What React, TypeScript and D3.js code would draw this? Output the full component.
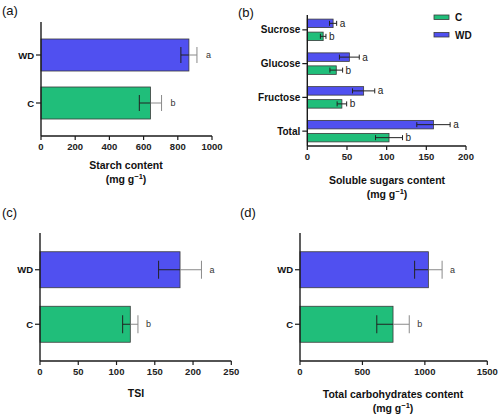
import React from "react";
import * as d3 from "d3";

const groups = ["C", "WD"];
const starchMean = [640, 865];
const starchErr = [65, 47];
const starchLetters = ["b", "a"];
const starchTicks = [0, 200, 400, 600, 800, 1000];

const sugarCats = ["Sucrose", "Glucose", "Fructose", "Total"];
const sugarC = [20, 36.5, 43.6, 103];
const sugarCErr = [3.5, 8, 6, 17];
const sugarWD = [32.5, 53, 71, 159];
const sugarWDErr = [4.5, 12.5, 14, 21];
const sugarLettersC = ["b", "b", "b", "b"];
const sugarLettersWD = ["a", "a", "a", "a"];
const sugarTicks = [0, 50, 100, 150, 200];

const tsiMean = [118, 183];
const tsiErr = [10, 28];
const tsiLetters = ["b", "a"];
const tsiTicks = [0, 50, 100, 150, 200, 250];

const carbMean = [745, 1028];
const carbErr = [130, 110];
const carbLetters = ["b", "a"];
const carbTicks = [0, 500, 1000, 1500];

const BLUE = "#5050F0";
const GREEN = "#20BE7A";
const AX = "#1a1a1a";
const FONT = "'Liberation Sans', Arial, sans-serif";

function colorOf(g: string) {
  return g === "WD" ? BLUE : GREEN;
}

function XAxis({ x, y, ticks }: { x: d3.ScaleLinear<number, number>; y: number; ticks: number[] }) {
  return (
    <g>
      <line x1={x.range()[0]} x2={x.range()[1]} y1={y} y2={y} stroke={AX} strokeWidth={1.4} />
      {ticks.map((t) => (
        <g key={t}>
          <line x1={x(t)} x2={x(t)} y1={y} y2={y + 4} stroke={AX} strokeWidth={1.2} />
          <text x={x(t)} y={y + 14} textAnchor="middle" fontSize={9.5} fontWeight="bold" fill="#222" fontFamily={FONT}>
            {t}
          </text>
        </g>
      ))}
    </g>
  );
}

function Title({ x, y, lines }: { x: number; y: number; lines: string[] }) {
  return (
    <g fontFamily={FONT} fontWeight="bold" fontSize={10.5} fill="#111">
      <text x={x} y={y} textAnchor="middle">{lines[0]}</text>
      {lines.length > 1 && (
        <text x={x} y={y + 14} textAnchor="middle">
          (mg g<tspan dy={-4} fontSize={7.5}>−1</tspan><tspan dy={4}>)</tspan>
        </text>
      )}
    </g>
  );
}

function ErrBar({ x, y, m, e, h, split }: { x: d3.ScaleLinear<number, number>; y: number; m: number; e: number; h: number; split: boolean }) {
  const lo = x(m - e), hi = x(m + e), mid = x(m);
  return (
    <g>
      <line x1={mid} x2={hi} y1={y} y2={y} stroke={split ? "#8a8a8a" : "#222"} strokeWidth={1} />
      <line x1={hi} x2={hi} y1={y - h} y2={y + h} stroke={split ? "#8a8a8a" : "#222"} strokeWidth={1} />
      <line x1={lo} x2={mid} y1={y} y2={y} stroke="#222" strokeWidth={1} />
      <line x1={lo} x2={lo} y1={y - h} y2={y + h} stroke="#222" strokeWidth={1} />
    </g>
  );
}

function SimplePanel({
  left, right, top, bottom, domainMax, ticks, means, errs, letters, pad, barFrac, capH, letterGap,
}: {
  left: number; right: number; top: number; bottom: number; domainMax: number; ticks: number[];
  means: number[]; errs: number[]; letters: string[]; pad: number; barFrac: number; capH: number; letterGap: number;
}) {
  const x = d3.scaleLinear().domain([0, domainMax]).range([left, right]);
  const y = d3.scalePoint<string>().domain(["WD", "C"]).range([top, bottom]).padding(pad);
  const bh = y.step() * barFrac;
  return (
    <g>
      {groups.map((g, i) => {
        const cy = y(g)!;
        return (
          <g key={g}>
            <rect x={x(0)} y={cy - bh / 2} width={x(means[i]) - x(0)} height={bh} fill={colorOf(g)} stroke="#3a3a3a" strokeWidth={0.8} />
            <ErrBar x={x} y={cy} m={means[i]} e={errs[i]} h={capH} split={true} />
            <text x={x(means[i] + errs[i]) + letterGap} y={cy + 3} fontSize={9} fill="#333" fontFamily={FONT}>{letters[i]}</text>
            <line x1={left - 5} x2={left} y1={cy} y2={cy} stroke={AX} strokeWidth={1.2} />
            <text x={left - 7} y={cy + 3.5} textAnchor="end" fontSize={9.5} fontWeight="bold" fill="#111" fontFamily={FONT}>{g}</text>
          </g>
        );
      })}
      <line x1={left} x2={left} y1={top} y2={bottom} stroke={AX} strokeWidth={1.4} />
      <XAxis x={x} y={bottom} ticks={ticks} />
    </g>
  );
}

function SugarPanel() {
  const left = 307.3, right = 466, top = 15, bottom = 146;
  const x = d3.scaleLinear().domain([0, 200]).range([left, right]);
  const y = d3.scalePoint<string>().domain(sugarCats).range([top, bottom]).padding(0.44);
  const bh = 8.5;
  const off = 6.5;
  return (
    <g>
      {sugarCats.map((c, i) => {
        const cy = y(c)!;
        const rows = [
          { g: "WD", m: sugarWD[i], e: sugarWDErr[i], l: sugarLettersWD[i], yy: cy - off },
          { g: "C", m: sugarC[i], e: sugarCErr[i], l: sugarLettersC[i], yy: cy + off },
        ];
        return (
          <g key={c}>
            {rows.map((r) => (
              <g key={r.g}>
                <rect x={x(0)} y={r.yy - bh / 2} width={x(r.m) - x(0)} height={bh} fill={colorOf(r.g)} stroke="#3a3a3a" strokeWidth={0.8} />
                <ErrBar x={x} y={r.yy} m={r.m} e={r.e} h={2.5} split={false} />
                <text x={x(r.m + r.e) + 3} y={r.yy + 3.5} fontSize={10} fill="#222" fontFamily={FONT}>{r.l}</text>
              </g>
            ))}
            <line x1={left - 5} x2={left} y1={cy} y2={cy} stroke={AX} strokeWidth={1.2} />
            <text x={left - 7} y={cy + 3.5} textAnchor="end" fontSize={10} fontWeight="bold" fill="#111" fontFamily={FONT}>{c}</text>
          </g>
        );
      })}
      <line x1={left} x2={left} y1={top} y2={bottom} stroke={AX} strokeWidth={1.4} />
      <XAxis x={x} y={bottom} ticks={sugarTicks} />
      {groups.map((g, i) => (
        <g key={g}>
          <rect x={434} y={15 + i * 17.5} width={15} height={4.5} fill={colorOf(g)} stroke="#3a3a3a" strokeWidth={0.8} />
          <text x={455} y={21 + i * 17.5} fontSize={10} fontWeight="bold" fill="#111" fontFamily={FONT}>{g}</text>
        </g>
      ))}
    </g>
  );
}

export default function App() {
  return (
    <svg width={500} height={418} style={{ position: "absolute", left: 0, top: 0, background: "#fff" }}>
      <rect width={500} height={418} fill="#fff" />
      <g fontFamily={FONT} fontSize={13} fill="#111">
        <text x={2} y={15}>(a)</text>
        <text x={238} y={17}>(b)</text>
        <text x={2} y={217}>(c)</text>
        <text x={240} y={217}>(d)</text>
      </g>
      <SimplePanel left={41} right={212} top={22} bottom={136} domainMax={1000} ticks={starchTicks}
        means={starchMean} errs={starchErr} letters={starchLetters} pad={0.6875} barFrac={0.667} capH={8} letterGap={9} />
      <Title x={126} y={169} lines={["Starch content", "unit"]} />
      <SugarPanel />
      <Title x={387} y={184} lines={["Soluble sugars content", "unit"]} />
      <SimplePanel left={40} right={231.3} top={233} bottom={361} domainMax={250} ticks={tsiTicks}
        means={tsiMean} errs={tsiErr} letters={tsiLetters} pad={0.674} barFrac={0.66} capH={9} letterGap={8} />
      <Title x={136} y={397} lines={["TSI"]} />
      <SimplePanel left={300} right={487.3} top={233} bottom={361} domainMax={1500} ticks={carbTicks}
        means={carbMean} errs={carbErr} letters={carbLetters} pad={0.674} barFrac={0.66} capH={9} letterGap={8} />
      <Title x={393} y={398} lines={["Total carbohydrates content", "unit"]} />
    </svg>
  );
}
